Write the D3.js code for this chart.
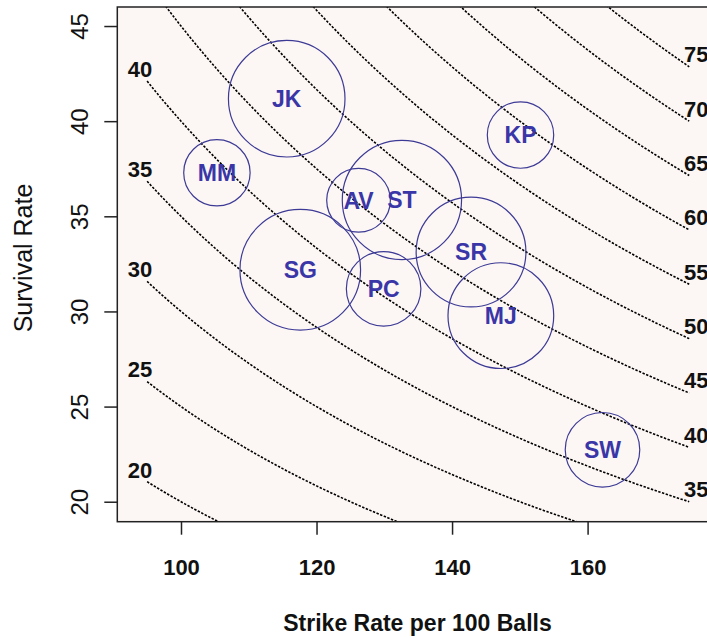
<!DOCTYPE html>
<html>
<head>
<meta charset="utf-8">
<script src="https://cdn.jsdelivr.net/npm/d3@7"></script>
<style>
  body { margin: 0; background: #fff; }
  svg { display: block; font-family: "Liberation Sans", Arial, sans-serif; }
</style>
</head>
<body>
<div id="chart"></div>
<script>
// players: strike rate, survival rate, circle radius (in strike-rate units)
const players = ["JK", "MM", "KP", "AV", "ST", "SG", "PC", "SR", "MJ", "SW"];
const strikeRate = [115.6, 105.3, 150.1, 126.2, 132.6, 117.6, 129.9, 142.8, 147.2, 162.2];
const survivalRate = [41.18, 37.29, 39.27, 35.84, 35.86, 32.19, 31.19, 33.12, 29.78, 22.73];
const circleSize = [8.6, 4.9, 4.9, 4.7, 8.8, 8.9, 5.5, 8.1, 7.8, 5.5];

// iso-average curves (runs per dismissal = SR * survival / 100)
const contourLevels = [20, 25, 30, 35, 40, 45, 50, 55, 60, 65, 70, 75];
const contourSpan = [95, 175];

const xTicks = [100, 120, 140, 160];
const yTicks = [20, 25, 30, 35, 40, 45];

const W = 707, H = 638;
const plot = { left: 117.3, right: 717.7, top: 7, bottom: 521.7 };

const svg = d3.select("#chart").append("svg")
    .attr("width", W)
    .attr("height", H);

const x = d3.scaleLinear().domain([90.6, 179.2]).range([plot.left, plot.right]);
const y = d3.scaleLinear().domain([18.95, 46.0]).range([plot.bottom, plot.top]);

// plot background
svg.append("rect")
    .attr("x", plot.left).attr("y", plot.top)
    .attr("width", plot.right - plot.left)
    .attr("height", plot.bottom - plot.top)
    .attr("fill", "#fcf7f4");

svg.append("clipPath").attr("id", "clip")
    .append("rect")
    .attr("x", plot.left).attr("y", plot.top)
    .attr("width", plot.right - plot.left)
    .attr("height", plot.bottom - plot.top);

// contour curves
const line = d3.line()
    .x(d => x(d[0]))
    .y(d => y(d[1]));

const xs = d3.range(contourSpan[0], contourSpan[1] + 0.01, 0.5);
const curves = contourLevels.map(level => ({
    level,
    pts: xs.map(v => [v, level * 100 / v])
}));

const cg = svg.append("g").attr("clip-path", "url(#clip)");
cg.selectAll(".contour")
    .data(curves)
    .enter()
    .append("path")
    .attr("class", "contour")
    .attr("d", d => line(d.pts))
    .attr("fill", "none")
    .attr("stroke", "#000")
    .attr("stroke-width", 1.6)
    .attr("stroke-dasharray", "2.4,1.5");

// labels at curve ends, only where the end falls inside the plot
const yDom = y.domain();
svg.selectAll(".clab-left")
    .data(curves.filter(d => d.pts[0][1] <= yDom[1]))
    .enter()
    .append("text")
    .attr("x", d => x(d.pts[0][0]) - 7)
    .attr("y", d => y(d.pts[0][1]) - 12)
    .attr("dy", "0.36em")
    .attr("text-anchor", "middle")
    .style("font-size", "22px")
    .style("font-weight", "bold")
    .attr("fill", "#111")
    .text(d => d.level);

svg.selectAll(".clab-right")
    .data(curves.filter(d => d.pts[d.pts.length - 1][1] >= yDom[0]))
    .enter()
    .append("text")
    .attr("x", d => x(d.pts[d.pts.length - 1][0]) + 7)
    .attr("y", d => y(d.pts[d.pts.length - 1][1]) - 12.5)
    .attr("dy", "0.36em")
    .attr("text-anchor", "middle")
    .style("font-size", "22px")
    .style("font-weight", "bold")
    .attr("fill", "#111")
    .text(d => d.level);

// player circles
const pts = players.map((p, i) => ({
    name: p, sr: strikeRate[i], surv: survivalRate[i], size: circleSize[i]
}));

svg.selectAll(".bubble")
    .data(pts)
    .enter()
    .append("circle")
    .attr("class", "bubble")
    .attr("cx", d => x(d.sr))
    .attr("cy", d => y(d.surv))
    .attr("r", d => x(d.size) - x(0))
    .attr("fill", "none")
    .attr("stroke", "#3d3a96")
    .attr("stroke-width", 1.2);

svg.selectAll(".pname")
    .data(pts)
    .enter()
    .append("text")
    .attr("class", "pname")
    .attr("x", d => x(d.sr))
    .attr("y", d => y(d.surv))
    .attr("dy", "0.36em")
    .attr("text-anchor", "middle")
    .style("font-size", "23px")
    .style("font-weight", "bold")
    .attr("fill", "#3a36a8")
    .text(d => d.name);

// box
svg.append("rect")
    .attr("x", plot.left).attr("y", plot.top)
    .attr("width", plot.right - plot.left)
    .attr("height", plot.bottom - plot.top)
    .attr("fill", "none")
    .attr("stroke", "#222")
    .attr("stroke-width", 1.5);

// x axis
const xAxis = svg.append("g")
    .attr("transform", `translate(0, ${plot.bottom})`)
    .call(d3.axisBottom(x).tickValues(xTicks).tickSize(13).tickSizeOuter(0));
xAxis.select(".domain").remove();
xAxis.selectAll("line").attr("stroke", "#222").attr("stroke-width", 1.5);
xAxis.selectAll("text")
    .attr("y", 53.5)
    .attr("dy", null)
    .attr("fill", "#111")
    .style("font-size", "22px")
    .style("font-weight", "bold")
    .style("font-family", "'Liberation Sans', Arial, sans-serif");

// y axis
const yAxis = svg.append("g")
    .attr("transform", `translate(${plot.left}, 0)`)
    .call(d3.axisLeft(y).tickValues(yTicks).tickSize(13).tickSizeOuter(0));
yAxis.select(".domain").remove();
yAxis.selectAll("line").attr("stroke", "#222").attr("stroke-width", 1.5);
yAxis.selectAll("text")
    .attr("x", null)
    .attr("dy", null)
    .attr("transform", "translate(-29.5, 0) rotate(-90)")
    .attr("text-anchor", "middle")
    .attr("fill", "#111")
    .style("font-size", "24px")
    .style("font-family", "'Liberation Sans', Arial, sans-serif");

// axis titles
svg.append("text")
    .attr("x", 417.5)
    .attr("y", 631)
    .attr("text-anchor", "middle")
    .style("font-size", "23px")
    .style("font-weight", "bold")
    .attr("fill", "#111")
    .text("Strike Rate per 100 Balls");

svg.append("text")
    .attr("transform", "translate(31.5, 258) rotate(-90)")
    .attr("text-anchor", "middle")
    .style("font-size", "25px")
    .attr("fill", "#111")
    .text("Survival Rate");
</script>
</body>
</html>
